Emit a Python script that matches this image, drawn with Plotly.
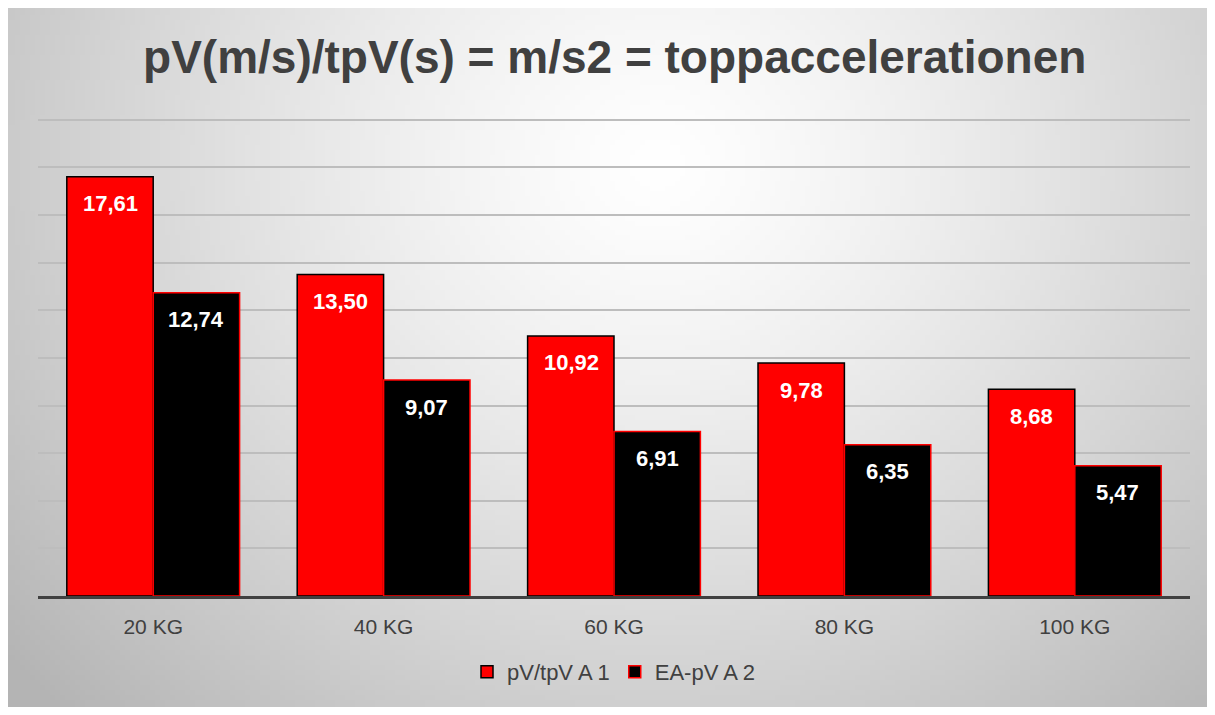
import base64
import struct
import zlib

import numpy as np
import plotly.graph_objects as go

# ---- data ---------------------------------------------------------------
CATEGORIES = ["20 KG", "40 KG", "60 KG", "80 KG", "100 KG"]
SERIES_A = [17.61, 13.50, 10.92, 9.78, 8.68]   # pV/tpV A 1
SERIES_B = [12.74, 9.07, 6.91, 6.35, 5.47]     # EA-pV A 2
NAME_A, NAME_B = "pV/tpV A 1", "EA-pV A 2"
TITLE = "pV(m/s)/tpV(s) = m/s2 = toppaccelerationen"
Y_MAX, Y_STEP = 20.2, 2

# page body has an 8px margin, so the figure is a bit smaller than the window
W, H = 1199, 699
FONT = "Liberation Sans, Arial, sans-serif"
TXT = "#404040"


def _gradient_uri(w=240, h=140):
    """Radial grey->white backdrop, like the Office chart-area fill."""
    yy, xx = np.mgrid[0:h, 0:w]
    cx, cy = 0.54 * w, 0.22 * h
    d = np.sqrt(((xx - cx) / (0.62 * w)) ** 2 + ((yy - cy) / (0.95 * h)) ** 2)
    g = (255 - 62 * np.clip(d, 0, 1.15) ** 1.3).clip(0, 255).astype(np.uint8)
    raw = b"".join(b"\x00" + row.tobytes() for row in g)

    def chunk(tag, data):
        c = struct.pack(">I", len(data)) + tag + data
        return c + struct.pack(">I", zlib.crc32(tag + data) & 0xFFFFFFFF)

    png = (b"\x89PNG\r\n\x1a\n"
           + chunk(b"IHDR", struct.pack(">IIBBBBB", w, h, 8, 0, 0, 0, 0))
           + chunk(b"IDAT", zlib.compress(raw, 9))
           + chunk(b"IEND", b""))
    return "data:image/png;base64," + base64.b64encode(png).decode()


ML, MR, MT, MB = 30, 17, 107, 111
PW, PH = W - ML - MR, H - MT - MB

fig = go.Figure()
fig.add_bar(x=CATEGORIES, y=SERIES_A, name=NAME_A,
            marker=dict(color="#ff0000", line=dict(color="#000000", width=1.5)))
fig.add_bar(x=CATEGORIES, y=SERIES_B, name=NAME_B,
            marker=dict(color="#000000", line=dict(color="#ff0000", width=1.5)))

# value labels near the top inside each bar
for vals, shift in ((SERIES_A, -43), (SERIES_B, 43)):
    for cat, v in zip(CATEGORIES, vals):
        fig.add_annotation(x=cat, y=v, xref="x", yref="y", xshift=shift, yshift=-27,
                           text=f"{v:.2f}".replace(".", ","), showarrow=False,
                           font=dict(family=FONT, size=22, color="#ffffff", weight="bold"))

# backdrop covers the whole figure
fig.add_layout_image(source=_gradient_uri(), xref="paper", yref="paper",
                     x=-ML / PW, y=1 + MT / PH, sizex=W / PW, sizey=H / PH,
                     sizing="stretch", layer="below", xanchor="left", yanchor="top")

fig.update_layout(
    width=W, height=H,
    margin=dict(l=ML, r=MR, t=MT, b=MB),
    paper_bgcolor="#ffffff", plot_bgcolor="rgba(0,0,0,0)",
    barmode="group", bargap=0.25, bargroupgap=0,
    separators=",.",
    title=dict(text=f"<b>{TITLE}</b>", x=0.506, xanchor="center", y=1 - 49 / H, yanchor="middle",
               font=dict(family=FONT, size=46, color=TXT)),
    legend=dict(orientation="h", x=0.5, xanchor="center", y=-(664 - (MT + PH)) / PH,
                yanchor="middle",
                font=dict(family=FONT, size=22, color=TXT), bgcolor="rgba(0,0,0,0)"),
    font=dict(family=FONT, color=TXT),
)
fig.update_xaxes(showline=True, linecolor="#404040", linewidth=3, ticks="",
                 ticklabelstandoff=10,
                 tickfont=dict(family=FONT, size=21, color=TXT), showgrid=False)
fig.update_yaxes(range=[0, Y_MAX], dtick=Y_STEP, showgrid=True, gridcolor="#bdbdbd", gridwidth=1.5,
                 showticklabels=False, zeroline=False, ticks="")

fig.write_html("out.html")
